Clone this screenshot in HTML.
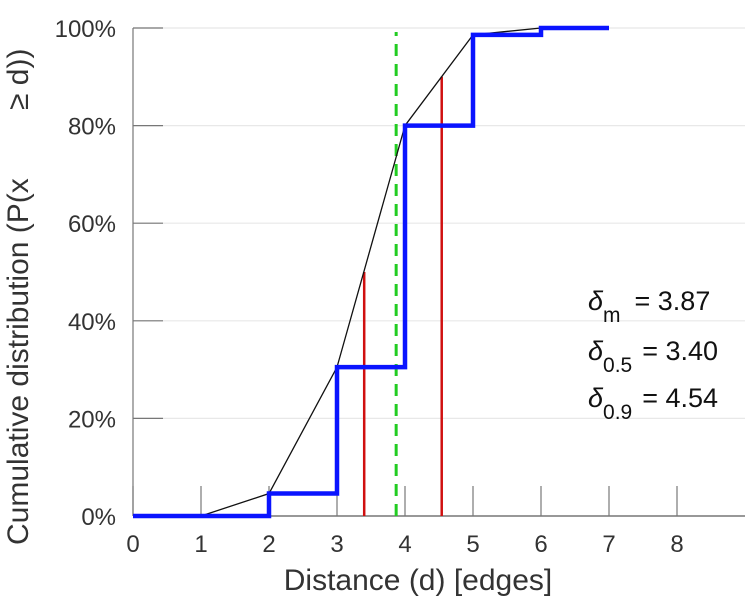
<!DOCTYPE html>
<html><head><meta charset="utf-8"><style>
body{margin:0;background:#fff}
svg{display:block;font-family:"Liberation Sans",sans-serif}
</style></head><body>
<svg id="chart" width="749" height="600" viewBox="0 0 749 600" xmlns="http://www.w3.org/2000/svg">
<g id="grid"></g>
<g id="axes"></g>
<g id="marks"></g>
<text x="418" y="590" font-size="30" text-anchor="middle" fill="#333">Distance (d) [edges]</text>
<g fill="#333" font-size="30">
<text transform="translate(28,545) rotate(-90)" text-anchor="start">Cumulative distribution (P(x</text>
<text transform="translate(28,110) rotate(-90)" text-anchor="start">≥ d))</text>
</g>
<g fill="#111">
<text x="588" y="310" font-size="27"><tspan font-style="italic">δ</tspan><tspan font-size="21" dy="12">m</tspan><tspan dy="-12" dx="14">= 3.87</tspan></text>
<text x="588" y="360" font-size="27"><tspan font-style="italic">δ</tspan><tspan font-size="21" dy="12">0.5</tspan><tspan dy="-12" dx="10">= 3.40</tspan></text>
<text x="588" y="407" font-size="27"><tspan font-style="italic">δ</tspan><tspan font-size="21" dy="12">0.9</tspan><tspan dy="-12" dx="10">= 4.54</tspan></text>
</g>
</svg>
<script>
const stepX = [0, 2, 3, 4, 5, 6, 7];
const stepY = [0, 4.6, 30.5, 80, 98.6, 100, 100];
const lineX = [1, 2, 3, 4, 5, 6, 7];
const lineY = [0, 4.6, 30.5, 80, 98.6, 100, 100];
const quantX = [3.40, 4.54];
const quantY = [50, 90];
const meanX = 3.87;
const xTicks = [0,1,2,3,4,5,6,7,8];
const yTicks = [0,20,40,60,80,100];
const yTickLabels = ["0%","20%","40%","60%","80%","100%"];

const NS="http://www.w3.org/2000/svg";
const X0=133, XS=68, Y0=516, Y1=28;
const sx=v=>X0+v*XS;
const sy=v=>Y0-(Y0-Y1)*v/100;
function mk(tag,attrs,parent){const e=document.createElementNS(NS,tag);for(const k in attrs)e.setAttribute(k,attrs[k]);document.getElementById(parent).appendChild(e);return e;}

yTicks.forEach((t,i)=>{
  if(t>0){const g=mk('line',{x1:X0,x2:745,y1:sy(t),y2:sy(t),stroke:'#e8e8e8','stroke-width':1.2},'grid');
  
  }
  const tk=mk('line',{x1:X0,x2:X0+30,y1:sy(t),y2:sy(t),stroke:'#777','stroke-width':1.2},'axes');
  
  
  const lb=mk('text',{x:X0-17,y:sy(t)+9,'font-size':24,'text-anchor':'end',fill:'#333'},'axes');
  lb.textContent=yTickLabels[i];
  
  
});
xTicks.forEach(t=>{
  const tk=mk('line',{x1:sx(t),x2:sx(t),y1:Y0,y2:Y0-30,stroke:'#777','stroke-width':1.2},'axes');
  
  
  const lb=mk('text',{x:sx(t),y:Y0+36,'font-size':24,'text-anchor':'middle',fill:'#333'},'axes');
  lb.textContent=t;
  
  
});
const ya=mk('line',{x1:X0,x2:X0,y1:Y1,y2:Y0,stroke:'#777','stroke-width':1.2},'axes');


const xa=mk('line',{x1:X0,x2:745,y1:Y0,y2:Y0,stroke:'#777','stroke-width':1.5},'axes');



quantX.forEach((q,i)=>{
  const l=mk('line',{x1:sx(q),x2:sx(q),y1:Y0,y2:sy(quantY[i]),stroke:'#d01010','stroke-width':2.5},'marks');
  
  
});
const m=mk('line',{x1:sx(meanX),x2:sx(meanX),y1:Y0,y2:Y1+4,stroke:'#22cc22','stroke-width':3,'stroke-dasharray':'12,8'},'marks');



const bl=mk('polyline',{points:lineX.map((x,i)=>sx(x)+','+sy(lineY[i])).join(' '),fill:'none',stroke:'#111','stroke-width':1.3},'marks');



let pts=[];
for(let i=0;i<stepX.length-1;i++){pts.push(sx(stepX[i])+','+sy(stepY[i]));pts.push(sx(stepX[i+1])+','+sy(stepY[i]));}
pts.push(sx(stepX[stepX.length-1])+','+sy(stepY[stepY.length-1]));
const st=mk('polyline',{points:pts.join(' '),fill:'none',stroke:'#0a14ff','stroke-width':4.5},'marks');


</script>
</body></html>
